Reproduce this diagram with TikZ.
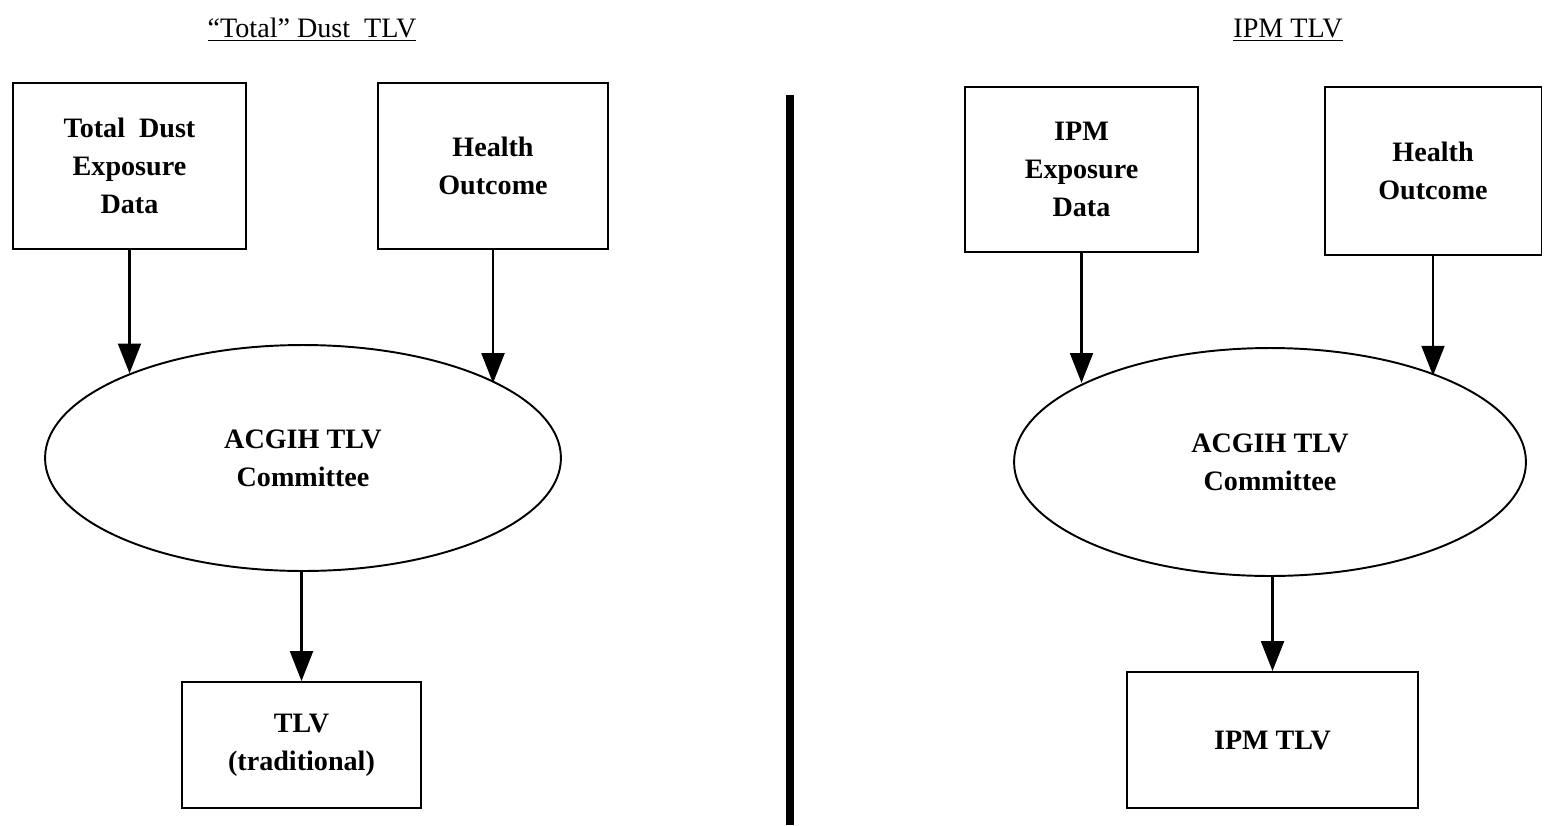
\documentclass[tikz,border=0pt]{standalone}
\usepackage{fontspec}
\setmainfont{Liberation Serif}
\usepackage{tikz}
\usetikzlibrary{shapes.geometric, arrows.meta, positioning, calc}
\tikzstyle{databox} = [rectangle, draw=black, line width=1.1pt, align=center, inner sep=0pt, font=\fontsize{16}{21.5}\selectfont\bfseries]
\tikzstyle{committee} = [ellipse, draw=black, line width=1.1pt, align=center, inner sep=0pt, font=\fontsize{16}{21.5}\selectfont\bfseries]
\tikzstyle{heading} = [font=\fontsize{16}{19}\selectfont]
\tikzstyle{arrow} = [line width=1.4pt, -{Triangle[length=17pt, width=13pt]}]

\begin{document}
\begin{tikzpicture}[x=0.02cm, y=-0.02cm]
    \useasboundingbox (0,0) rectangle (1544,825);

    % Headings
    \node (ltitle) [heading] at (312,30) {\underline{``Total'' Dust\ \ TLV}};
    \node (rtitle) [heading] at (1288,30) {\underline{IPM TLV}};

    % Divider
    \coordinate (divtop) at (790,95);
    \coordinate (divbot) at (790,825);
    \draw[line width=4pt] (divtop) -- (divbot);

    % Left side: total dust
    \node (tdata) [databox, minimum width=4.66cm, minimum height=3.32cm] at (129.5,166) {Total\ \ Dust\\Exposure\\Data};
    \node (thealth) [databox, minimum width=4.6cm, minimum height=3.32cm] at (493,166) {Health\\Outcome};
    \node (tcomm) [committee, minimum width=10.32cm, minimum height=4.52cm] at (303,458) {ACGIH TLV\\Committee};
    \node (ttlv) [databox, minimum width=4.78cm, minimum height=2.52cm] at (301.5,745) {TLV\\(traditional)};

    % Right side: IPM
    \node (idata) [databox, minimum width=4.66cm, minimum height=3.3cm] at (1081.5,169.5) {IPM\\Exposure\\Data};
    \node (ihealth) [databox, minimum width=4.34cm, minimum height=3.36cm] at (1433,171) {Health\\Outcome};
    \node (icomm) [committee, minimum width=10.24cm, minimum height=4.56cm] at (1270,462) {ACGIH TLV\\Committee};
    \node (itlv) [databox, minimum width=5.82cm, minimum height=2.72cm] at (1272.5,740) {IPM TLV};

    % Arrows into the committees
    \draw[arrow] (tdata.south) -- (tdata.south |- tcomm.154.3);
    \draw[arrow] (thealth.south) -- (thealth.south |- tcomm.21.9);
    \draw[arrow] (idata.south) -- (idata.south |- icomm.157.75);
    \draw[arrow] (ihealth.south) -- (ihealth.south |- icomm.27.95);

    % Arrows out of the committees
    \draw[arrow] (ttlv.north |- tcomm.south) -- (ttlv.north);
    \draw[arrow] (itlv.north |- icomm.south) -- (itlv.north);
\end{tikzpicture}
\end{document}
